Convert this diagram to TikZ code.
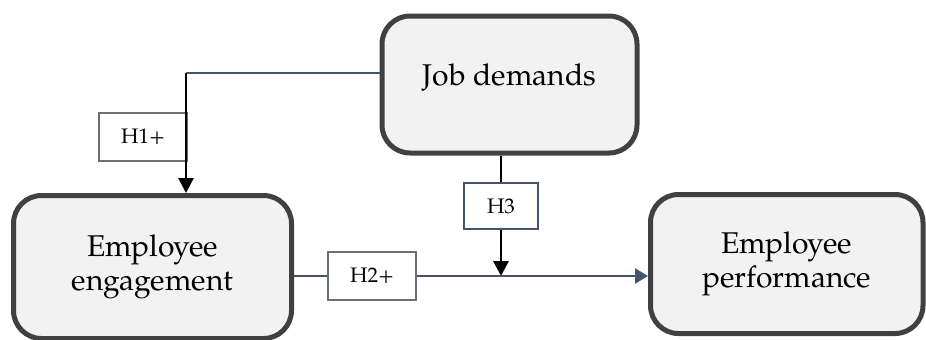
\documentclass[tikz,border=0pt]{standalone}
\usepackage{fontspec}
\setmainfont{TeX Gyre Pagella}
\definecolor{boxgray}{HTML}{404040}
\definecolor{boxfill}{HTML}{F2F2F2}
\definecolor{linkblue}{HTML}{44546A}
\definecolor{hypgray}{HTML}{6E6E6E}
\usetikzlibrary{arrows.meta}

\begin{document}
\begin{tikzpicture}[x=0.5pt, y=-0.5pt,
    varbox/.style={draw=boxgray, line width=2.5pt, fill=boxfill,
                   rounded corners=14pt, inner sep=0pt, align=center,
                   font=\fontsize{15}{17}\selectfont},
    hypbox/.style={draw=hypgray, line width=1pt, fill=white, inner sep=0pt,
                   minimum width=44pt, minimum height=24pt,
                   font=\fontsize{10.5}{12}\selectfont},
    link/.style={linkblue, line width=1.2pt},
    blackarr/.style={-{Triangle[length=7.5pt,width=7.5pt]}, line width=1.4pt, black}
  ]
    \useasboundingbox (0,0) rectangle (926,339);
    \node[varbox, minimum width=127.5pt, minimum height=68.5pt, text depth=10pt]
      (jd) at (509.5,84.5) {Job demands};
    \node[varbox, minimum width=139pt, minimum height=71.5pt]
      (ee) at (152.5,267) {Employee\\engagement};
    \node[varbox, minimum width=136.25pt, minimum height=69.5pt]
      (ep) at (786.75,264) {Employee\\performance};
    \node[hypbox] (h1) at (143,137) {H1+};
    \node[hypbox] (h2) at (372,276) {H2+};
    \node[hypbox, draw=linkblue, minimum width=37pt, minimum height=23pt]
      (h3) at (501,206) {H3};
    \coordinate (h1c) at (186,73);
    \draw[link] (jd.west |- h1c) -- (h1c);
    \draw[blackarr] (h1c) -- (h1c |- ee.north);
    \draw[line width=1.4pt] (jd.south -| h3.north) -- (h3.north);
    \draw[blackarr] (h3.south) -- (h3.south |- h2.east);
    \draw[link] (ee.east |- h2.west) -- (h2.west);
    \draw[link, -{Triangle[length=6.5pt,width=7.5pt]}] (h2.east) -- (h2.east -| ep.west);
\end{tikzpicture}
\end{document}
